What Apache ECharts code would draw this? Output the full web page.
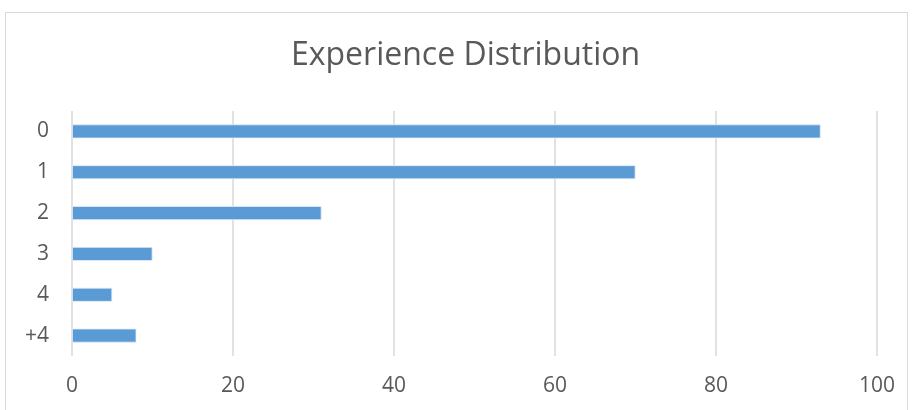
<!DOCTYPE html>
<html>
<head>
<meta charset="utf-8">
<script src="https://cdn.jsdelivr.net/npm/echarts@6/dist/echarts.min.js"></script>
<style>
  html, body { margin: 0; padding: 0; background: #fff; }
  #frame { position: absolute; left: 5px; top: 12px; width: 903px; height: 420px; border: 1px solid #d9d9d9; box-sizing: border-box; }
  #chart { position: absolute; left: 0; top: 0; width: 914px; height: 410px; }
</style>
</head>
<body>
<div id="frame"></div>
<div id="chart"></div>
<script>
// Years of experience buckets and respondent counts
const categories = ['0', '1', '2', '3', '4', '+4'];
const counts = [93, 70, 31, 10, 5, 8];
const xTicks = { min: 0, max: 100, interval: 20 };

const chart = echarts.init(document.getElementById('chart'), null, { renderer: 'canvas' });
chart.setOption({
  backgroundColor: 'transparent',
  animation: false,
  title: {
    text: 'Experience Distribution',
    left: 286,
    top: 35,
    textStyle: { fontFamily: 'Open Sans', fontSize: 32, fontWeight: 'normal', color: '#595959' }
  },
  grid: { left: 72, right: 37, top: 111, bottom: 54, containLabel: false },
  xAxis: {
    type: 'value',
    min: xTicks.min,
    max: xTicks.max,
    interval: xTicks.interval,
    axisLine: { show: false },
    axisTick: { show: false },
    splitLine: { show: true, lineStyle: { color: '#d9d9d9', width: 1.5 } },
    axisLabel: { color: '#595959', fontFamily: 'Open Sans', fontSize: 21, margin: 20 }
  },
  yAxis: {
    type: 'category',
    data: categories,
    inverse: true,
    axisLine: { show: false },
    axisTick: { show: false },
    axisLabel: { color: '#595959', fontFamily: 'Open Sans', fontSize: 21, margin: 23 }
  },
  series: [{
    type: 'bar',
    data: counts,
    barWidth: 14,
    itemStyle: { color: '#5b9bd5', borderColor: '#e6eef8', borderWidth: 0.8 }
  }]
});
</script>
</body>
</html>
